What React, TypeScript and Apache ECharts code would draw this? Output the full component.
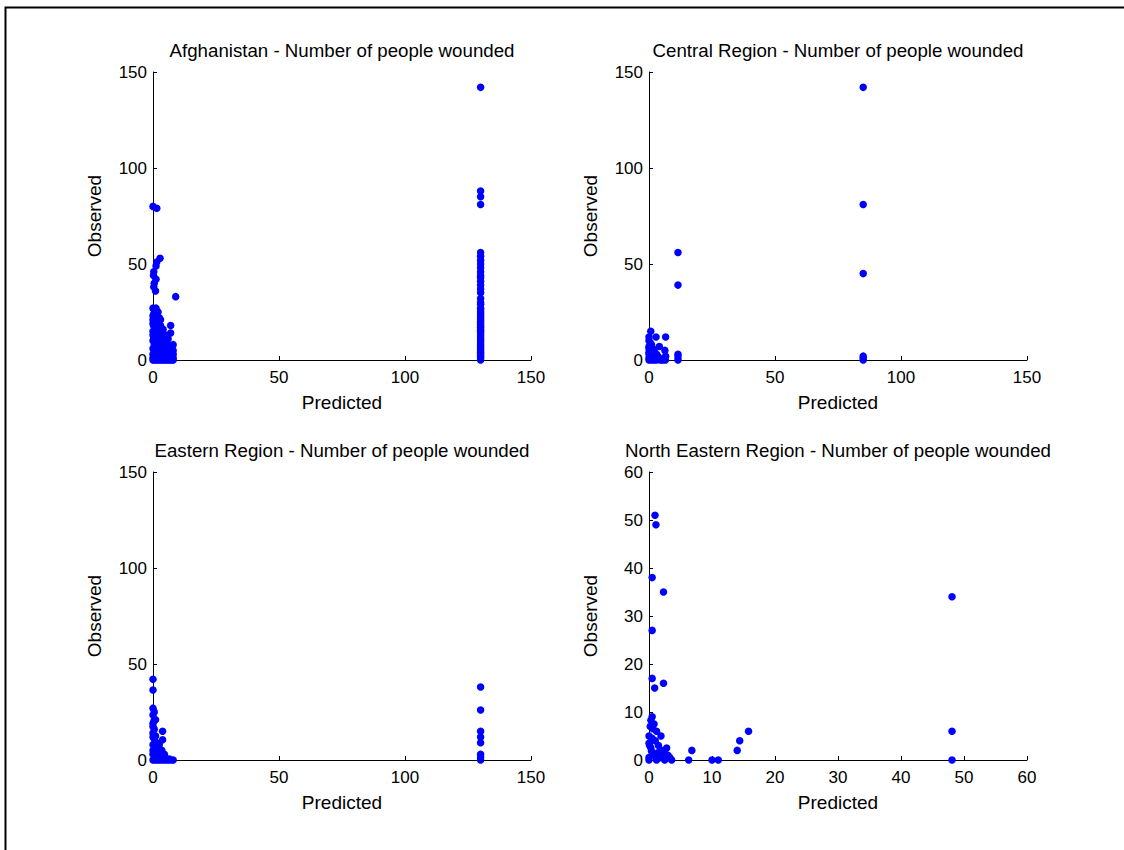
import React, { useEffect, useRef } from "react";
import * as echarts from "echarts";

const titles = [
  "Afghanistan - Number of people wounded",
  "Central Region - Number of people wounded",
  "Eastern Region - Number of people wounded",
  "North Eastern Region - Number of people wounded",
];

const afghanistan: number[][] = [
  [0, 80], [1.5, 79], [0.3, 46], [0.2, 44], [1.2, 42], [0.5, 40], [0.3, 38], [1.0, 36], [2.8, 53], [1.5, 51], [1.2, 49], [9, 33],
  [0, 27], [0.5, 26], [1.2, 27], [2, 25], [0.3, 24], [1.5, 23], [2.5, 22], [0, 21], [0.8, 20], [1.8, 19], [0.2, 18], [3, 18],
  [7, 18], [1, 17], [2.2, 16], [0.4, 15], [3.5, 15], [1.6, 14], [7, 14], [0, 13], [2.8, 13], [1, 12], [4, 12], [0.3, 11],
  [2, 11], [3.3, 10], [5, 10], [0, 10], [1.2, 9], [2.6, 9], [4.5, 9], [6, 8], [8, 8], [0.5, 8], [1.8, 7], [3.5, 7], [5.5, 7],
  [7.5, 7], [0, 6], [1, 6], [2.5, 6], [4, 6], [6.5, 5], [8, 5], [0.4, 5], [1.6, 4], [3, 4], [5, 4], [7, 4], [0, 3], [1.2, 3],
  [2.2, 3], [4, 3], [6, 3], [8, 3], [0.6, 2], [1.8, 2], [3.3, 2], [5.5, 2], [7.5, 2], [0, 1], [1, 1], [2.6, 1], [4.4, 1],
  [6.2, 1], [8, 1], [0, 0], [0.8, 0], [1.6, 0], [2.4, 0], [3.2, 0], [4, 0], [4.8, 0], [5.6, 0], [6.4, 0], [7.2, 0], [8, 0],
  [0, 15], [0, 19], [0, 23], [1, 22], [2, 20], [3, 21], [1.4, 25], [2.4, 17], [5, 13], [6, 11], [4, 16],
  [130, 142], [130, 88], [130, 85], [130, 81], [130, 56], [130, 54], [130, 50], [130, 46], [130, 43], [130, 41], [130, 37],
  [130, 35], [130, 30], [130, 27], [130, 25], [130, 23], [130, 21], [130, 19], [130, 17], [130, 15], [130, 13], [130, 11],
  [130, 9], [130, 7], [130, 5], [130, 3], [130, 1], [130, 0], [130, 2], [130, 4], [130, 6], [130, 8], [130, 10], [130, 12],
  [130, 14], [130, 16], [130, 18], [130, 20], [130, 22], [130, 24], [130, 26], [130, 29], [130, 32], [130, 39], [130, 44],
  [130, 48], [130, 52],
];

const central: number[][] = [
  [0.7, 15], [0, 12], [2.8, 12], [6.6, 12], [4.1, 7], [6.3, 5], [6.6, 2], [0, 10], [0.5, 9], [1, 8], [0, 7], [1.5, 6],
  [0.3, 5], [2, 5], [0, 4], [1, 4], [3, 3], [0, 3], [1.5, 2], [0.5, 2], [2.5, 1], [4, 1], [0, 1], [1, 0], [0, 0], [2, 0],
  [3, 0], [4.5, 0], [5.5, 0], [6.5, 0], [0, 6], [2, 3], [1, 1], [3.5, 2],
  [11.5, 56], [11.5, 39], [11.5, 3], [11.5, 1.5], [11.5, 0],
  [85, 142], [85, 81], [85, 45], [85, 2], [85, 1], [85, 0],
];

const eastern: number[][] = [
  [0, 42], [0, 36.5], [0, 27], [0.5, 25], [0, 23.5], [1, 21], [0.4, 20.5], [0, 17.5], [0.5, 16], [3.8, 15], [1, 12.5],
  [0, 12], [3.8, 10.5], [0.5, 11], [1.5, 9], [0, 8], [2.5, 8], [0.6, 7], [2, 6], [3.5, 5], [0, 5], [1, 4], [2.8, 4],
  [4.5, 3], [0, 3], [1.5, 2], [3, 2], [5, 1], [0.5, 1], [2, 1], [0, 0], [1, 0], [2, 0], [3, 0], [4, 0], [5, 0], [6, 0],
  [7, 0], [8, 0], [6.5, 0.5], [0, 14], [0, 19], [0.8, 6], [4, 2],
  [130, 38], [130, 26], [130, 15], [130, 12], [130, 9], [130, 3], [130, 0], [130, 1.5],
];

const northEastern: number[][] = [
  [0.95, 51], [1.1, 49], [0.5, 38], [2.3, 35], [0.5, 27], [0.5, 17], [0.9, 15], [2.3, 16], [0.5, 9], [0.3, 8.3],
  [0.8, 7.5], [0.2, 7], [0.6, 6.5], [1.2, 6], [0, 5], [1.9, 5], [0.5, 4.5], [1, 4], [0, 3.5], [1.5, 3], [0.3, 2.5],
  [2, 2], [2.5, 1.5], [0.8, 1], [3, 1], [0, 0.5], [1.2, 0], [2.5, 0], [3.6, 0], [0, 0], [6.3, 0], [6.8, 2], [10, 0],
  [11, 0], [14, 2], [14.4, 4], [15.8, 6], [48.1, 34], [48.1, 6], [48.1, 0], [0.4, 1.8], [1.8, 0.5], [2.8, 2.5],
  [0.1, 3], [1.4, 1.5], [3.3, 0.5],
];

const seriesData = [afghanistan, central, eastern, northEastern];
const axisMax = [150, 150, 150, 60];
const axisInterval = [50, 50, 50, 10];
const xName = "Predicted";
const yName = "Observed";

const FONT = "'Liberation Sans', Arial, sans-serif";

export default function App() {
  const ref = useRef<HTMLDivElement>(null);
  useEffect(() => {
    if (!ref.current) return;
    const chart = echarts.init(ref.current, undefined, { renderer: "svg" });
    const lefts = [153, 649, 153, 649];
    const tops = [72, 72, 472, 472];
    const grids = lefts.map((l, i) => ({ left: l, top: tops[i], width: 378, height: 288 }));
    const axisCommon = (i: number) => ({
      gridIndex: i,
      min: 0,
      max: axisMax[i],
      interval: axisInterval[i],
      axisLine: { show: true, lineStyle: { color: "#000", width: 1 } },
      axisTick: { show: true, inside: true, length: 4, lineStyle: { color: "#000" } },
      splitLine: { show: false },
      nameLocation: "middle" as const,
      nameTextStyle: { color: "#000", fontSize: 19, fontFamily: FONT },
    });
    const labelStyle = { color: "#000", fontSize: 17, fontFamily: FONT };
    chart.setOption({
      animation: false,
      backgroundColor: "#fff",
      title: titles.map((t, i) => ({
        text: t,
        left: lefts[i] + 189,
        top: tops[i] - 31,
        padding: 0,
        textAlign: "center",
        textStyle: { color: "#000", fontSize: 18.7, fontWeight: "normal", fontFamily: FONT },
      })),
      grid: grids,
      xAxis: seriesData.map((_, i) => ({
        ...axisCommon(i),
        type: "value",
        name: xName,
        nameGap: 33,
        axisLabel: { ...labelStyle, margin: 9 },
      })),
      yAxis: seriesData.map((_, i) => ({
        ...axisCommon(i),
        type: "value",
        name: yName,
        nameGap: 49,
        axisLabel: { ...labelStyle, margin: 6 },
      })),
      series: seriesData.map((d, i) => ({
        type: "scatter",
        xAxisIndex: i,
        yAxisIndex: i,
        data: d,
        symbol: "circle",
        symbolSize: 7.5,
        itemStyle: { color: "#0000ff", opacity: 1 },
      })),
      graphic: [
        {
          type: "rect",
          shape: { x: 5.5, y: 7.5, width: 1300, height: 1000 },
          style: { fill: "none", stroke: "#000", lineWidth: 2 },
          silent: true,
        },
      ],
    });
    return () => chart.dispose();
  }, []);
  return (
    <div
      ref={ref}
      style={{ position: "fixed", left: 0, top: 0, width: 1124, height: 850 }}
    />
  );
}
